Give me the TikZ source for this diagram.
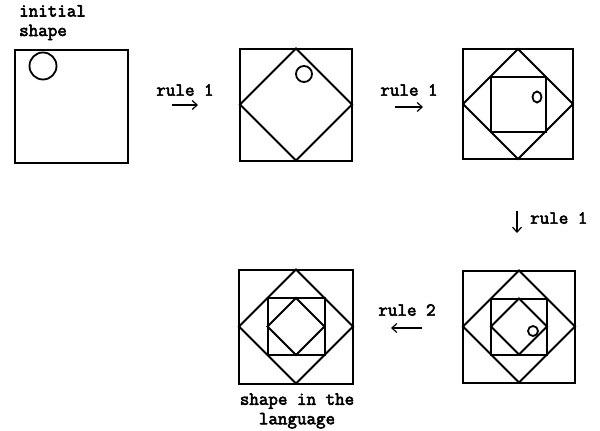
\documentclass[tikz,border=0pt]{standalone}
\usepackage{fontspec}
\newfontfamily\typew[FakeBold=3]{Latin Modern Mono}
\usetikzlibrary{arrows.meta}
\tikzset{
  frame/.style={draw, line width=2pt, line join=miter},
  dot/.style={draw, line width=1.8pt},
  lbl/.style={font=\typew\fontsize{18.5}{19.5}\selectfont, inner sep=0pt, align=center},
  rulearrow/.style={line width=1.2pt, -{Straight Barb[length=5pt,width=9pt]}},
}
\newcommand{\nestbox}[4]{% cx cy h levels
  \begin{scope}[shift={(#1,#2)}]
    \draw[frame] (-#3,-#3) rectangle (#3,#3);
    \ifnum#4>1 \draw[frame] (0,-#3) -- (#3,0) -- (0,#3) -- (-#3,0) -- cycle; \fi
    \ifnum#4>2 \draw[frame] (-#3/2,-#3/2) rectangle (#3/2,#3/2); \fi
    \ifnum#4>3 \draw[frame] (0,-#3/2) -- (#3/2,0) -- (0,#3/2) -- (-#3/2,0) -- cycle; \fi
  \end{scope}}
\begin{document}
\begin{tikzpicture}[x=1pt,y=-1pt]
\useasboundingbox (0,0) rectangle (600,431);
% boxes
\nestbox{71.5}{106}{56.5}{1}
\nestbox{296}{104.5}{56}{2}
\nestbox{518}{104}{55}{3}
\nestbox{519}{326.5}{56}{4}
\nestbox{296}{326.5}{57}{4}
% circles
\draw[dot] (43,66) circle[radius=13.5];
\draw[dot] (304,74) circle[radius=8];
\draw[dot] (537,97) circle[x radius=4.5, y radius=5.5];
\draw[dot] (533,331) circle[radius=5];
% labels
\node[lbl, anchor=north west, align=left] (init) at (19,5) {initial\\shape};
\node[lbl] (r1a) at (185,90) {rule 1};
\node[lbl] (r1b) at (409,90) {rule 1};
\node[lbl, anchor=west] (r1c) at (530,218) {rule 1};
\node[lbl] (r2) at (407,310) {rule 2};
\node[lbl] (lang) at (297,411) {shape in the\\language};
% arrows
\coordinate (a1s) at (172,105); \coordinate (a1e) at (198,105);
\coordinate (a2s) at (395,107); \coordinate (a2e) at (423,107);
\coordinate (a3s) at (517,211); \coordinate (a3e) at (517,233);
\coordinate (a4s) at (422,328); \coordinate (a4e) at (391,328);
\draw[rulearrow] (a1s) -- (a1e);
\draw[rulearrow] (a2s) -- (a2e);
\draw[rulearrow] (a3s) -- (a3e);
\draw[rulearrow] (a4s) -- (a4e);
\end{tikzpicture}
\end{document}
